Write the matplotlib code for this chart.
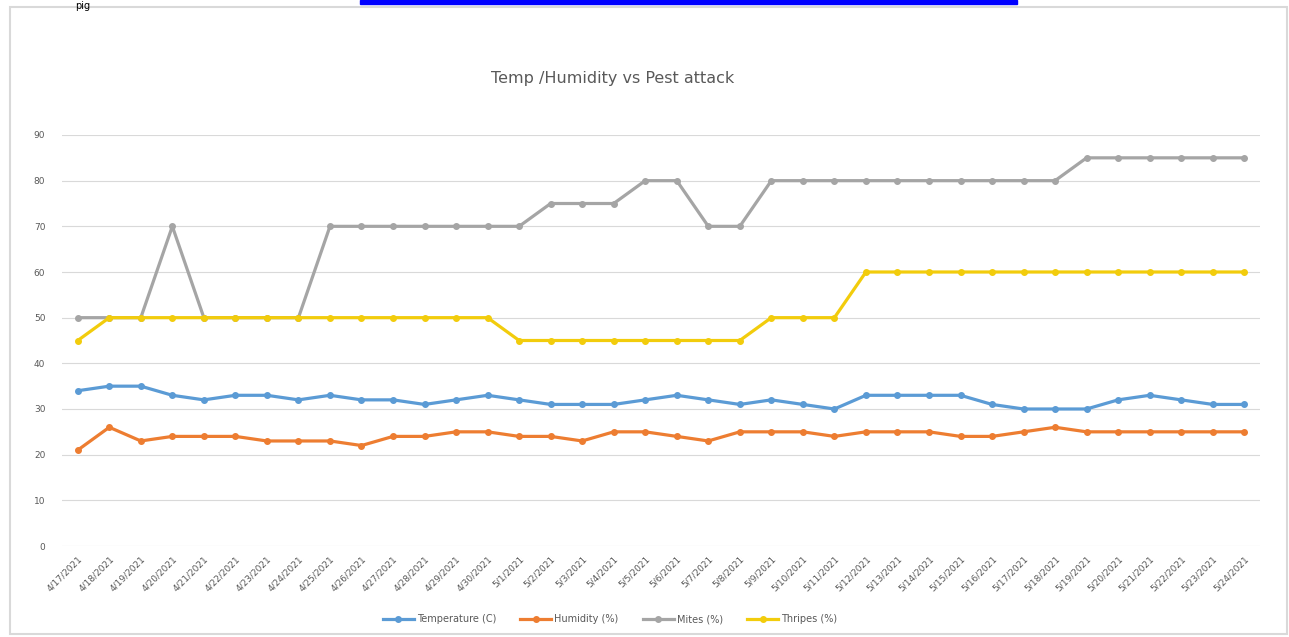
import matplotlib.pyplot as plt
from matplotlib.patches import Rectangle

dates = ['4/17/2021', '4/18/2021', '4/19/2021', '4/20/2021', '4/21/2021', '4/22/2021',
         '4/23/2021', '4/24/2021', '4/25/2021', '4/26/2021', '4/27/2021', '4/28/2021',
         '4/29/2021', '4/30/2021', '5/1/2021', '5/2/2021', '5/3/2021', '5/4/2021',
         '5/5/2021', '5/6/2021', '5/7/2021', '5/8/2021', '5/9/2021', '5/10/2021',
         '5/11/2021', '5/12/2021', '5/13/2021', '5/14/2021', '5/15/2021', '5/16/2021',
         '5/17/2021', '5/18/2021', '5/19/2021', '5/20/2021', '5/21/2021', '5/22/2021',
         '5/23/2021', '5/24/2021']

temperature = [34, 35, 35, 33, 32, 33, 33, 32, 33, 32, 32, 31, 32, 33, 32, 31, 31, 31, 32,
               33, 32, 31, 32, 31, 30, 33, 33, 33, 33, 31, 30, 30, 30, 32, 33, 32, 31, 31]
humidity = [21, 26, 23, 24, 24, 24, 23, 23, 23, 22, 24, 24, 25, 25, 24, 24, 23, 25, 25,
            24, 23, 25, 25, 25, 24, 25, 25, 25, 24, 24, 25, 26, 25, 25, 25, 25, 25, 25]
mites = [50, 50, 50, 70, 50, 50, 50, 50, 70, 70, 70, 70, 70, 70, 70, 75, 75, 75, 80,
         80, 70, 70, 80, 80, 80, 80, 80, 80, 80, 80, 80, 80, 85, 85, 85, 85, 85, 85]
thripes = [45, 50, 50, 50, 50, 50, 50, 50, 50, 50, 50, 50, 50, 50, 45, 45, 45, 45, 45,
           45, 45, 45, 50, 50, 50, 60, 60, 60, 60, 60, 60, 60, 60, 60, 60, 60, 60, 60]

series = [
    ('Temperature (C)', temperature, '#5B9BD5'),
    ('Humidity (%)', humidity, '#ED7D31'),
    ('Mites (%)', mites, '#A5A5A5'),
    ('Thripes (%)', thripes, '#F2CC0C'),
]

fig = plt.figure(figsize=(12.89, 6.37), dpi=100)

# chart frame and the bits of the page around it
fig.patches.append(Rectangle((10 / 1289, 3 / 637), 1277 / 1289, 627 / 637,
                             transform=fig.transFigure, fill=False,
                             edgecolor='#D9D9D9', lw=1.5))
fig.patches.append(Rectangle((360 / 1289, 633 / 637), 657 / 1289, 4 / 637,
                             transform=fig.transFigure, color='#0000FF'))
fig.text(75 / 1289, 1 - 1 / 637, 'pig', fontsize=7, va='top', ha='left', color='black')

ax = fig.add_axes([62 / 1289, 1 - 546 / 637, 1198 / 1289, 411 / 637])
x = range(len(dates))
for name, vals, col in series:
    ax.plot(x, vals, color=col, lw=2.3, marker='o', markersize=4, label=name)

ax.set_xlim(-0.5, len(dates) - 0.5)
ax.set_ylim(0, 90)
ax.set_yticks(range(0, 91, 10))
ax.set_xticks(list(x))
ax.set_xticklabels(dates, rotation=45, ha='right', rotation_mode='anchor')
ax.tick_params(axis='both', length=0, labelsize=6.5, labelcolor='#595959')
ax.tick_params(axis='y', pad=12)
ax.tick_params(axis='x', pad=6)
ax.grid(axis='y', color='#D9D9D9', lw=0.8)
ax.set_axisbelow(True)
for s in ax.spines.values():
    s.set_visible(False)

fig.text(613 / 1289, 1 - 78 / 637, 'Temp /Humidity vs Pest attack', ha='center',
         va='center', fontsize=11.5, color='#595959')

fig.legend(loc='center', bbox_to_anchor=(610 / 1289, 1 - 619 / 637), ncol=4,
           frameon=False, fontsize=7, labelcolor='#595959', handlelength=3.2,
           columnspacing=2.5, handletextpad=0.3)

fig.savefig('out.png', dpi=100)
